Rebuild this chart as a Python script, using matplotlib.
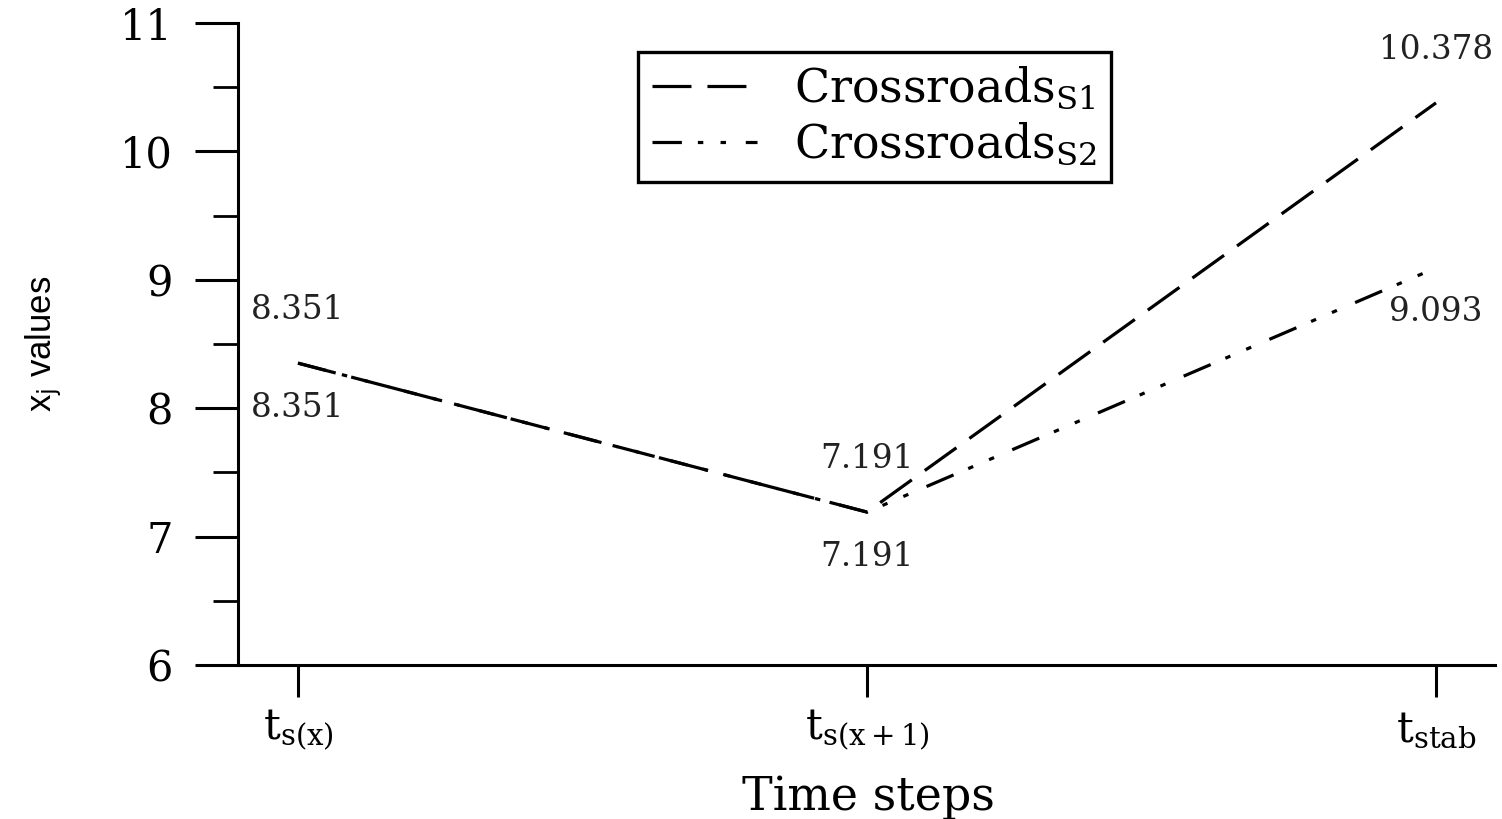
import matplotlib
matplotlib.use("Agg")
import matplotlib.pyplot as plt
from matplotlib.ticker import MultipleLocator

# ---- data ----
time_steps = [r'$\mathrm{t}_{\mathrm{s(x)}}$', r'$\mathrm{t}_{\mathrm{s(x+1)}}$', r'$\mathrm{t}_{\mathrm{stab}}$']
s1_values = [8.351, 7.191, 10.378]
s2_values = [8.351, 7.191, 9.093]
series_labels = [r'Crossroads$_{\mathrm{S1}}$', r'Crossroads$_{\mathrm{S2}}$']

plt.rcParams['mathtext.fontset'] = 'dejavuserif'
SERIF = 'DejaVu Serif'

fig = plt.figure(figsize=(15.02, 8.19), dpi=100)
ax = fig.add_axes([238/1502, 1-665/819, (1495-238)/1502, (665-23)/819])

x = list(range(len(time_steps)))
lw = 2.3
l1, = ax.plot(x, s1_values, color='black', lw=lw, dashes=(12.2, 5.0),
              dash_capstyle='butt', label=series_labels[0])
l2, = ax.plot(x, s2_values, color='black', lw=lw,
              dashes=(9.2, 5.0, 1.7, 5.4, 1.7, 6.2),
              dash_capstyle='butt', label=series_labels[1])

for xi, v in zip(x, s1_values):
    ax.annotate(f'{v:.3f}', (xi, v), xytext=(0, 38), textcoords='offset points',
                ha='center', va='center', fontsize=23.5, family=SERIF, color='#222222')
for xi, v in zip(x, s2_values):
    ax.annotate(f'{v:.3f}', (xi, v), xytext=(0, -32), textcoords='offset points',
                ha='center', va='center', fontsize=23.5, family=SERIF, color='#222222')

ax.set_xlim(-60/569, 2 + 59/569)
ax.set_ylim(6, 11)
ax.set_xticks(x)
ax.set_xticklabels(time_steps, fontsize=30, family=SERIF)
ax.yaxis.set_major_locator(MultipleLocator(1))
ax.yaxis.set_minor_locator(MultipleLocator(0.5))
for lab in ax.get_yticklabels():
    lab.set_family(SERIF)
    lab.set_fontsize(30)

ax.tick_params(axis='y', which='major', length=31, width=2.2, pad=16, direction='out')
ax.tick_params(axis='y', which='minor', length=18, width=2.0, direction='out')
ax.tick_params(axis='x', which='major', length=23, width=2.2, pad=8, direction='out')

for s in ['top', 'right']:
    ax.spines[s].set_visible(False)
for s in ['left', 'bottom']:
    ax.spines[s].set_linewidth(2.2)

fig.text(44/1502, 1-344/819, r'x$_{\mathsf{j}}$ values', rotation=90,
         ha='center', va='center', fontsize=25, family='Liberation Sans')
fig.text(868/1502, 1-797/819, 'Time steps', ha='center', va='center',
         fontsize=33, family=SERIF)

leg = fig.legend(handles=[l1, l2], loc='upper left',
                 bbox_to_anchor=(638/1502, 1-52/819),
                 prop={'family': SERIF, 'size': 33},
                 frameon=True, fancybox=False, edgecolor='black', framealpha=1,
                 handlelength=2.3, handletextpad=0.8, borderpad=0.3,
                 labelspacing=0.2, borderaxespad=0)
leg.get_frame().set_linewidth(2.4)

fig.savefig('out.png', dpi=100)
